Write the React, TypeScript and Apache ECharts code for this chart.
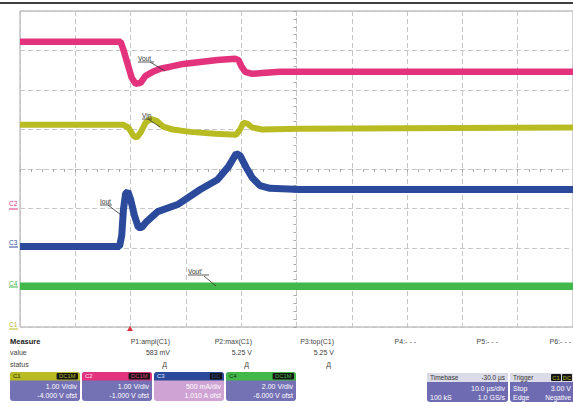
import React, { useEffect, useRef } from "react";
import * as echarts from "echarts";

// Time in µs relative to the trigger, level in screen divisions (0 = centre line)
const vinTime = [-20, -1.4, -0.4, 0.5, 1.1, 1.8, 2.7, 3.6, 4.7, 5.9, 7.6, 10.8, 15.3, 19.1, 19.8, 20.4, 21.1, 22.0, 23.8, 30.6, 80];
const vinLevel = [1.12, 1.12, 1.05, 0.84, 0.79, 0.92, 1.17, 1.27, 1.22, 1.07, 1.0, 0.94, 0.89, 0.87, 1.0, 1.17, 1.15, 1.05, 1.0, 1.02, 1.05];

const voutTime = [-20, -1.8, -1.3, -0.5, 0.2, 0.9, 1.8, 2.7, 4.0, 5.4, 7.2, 9.5, 12.6, 15.7, 18.9, 19.5, 20.0, 20.7, 22.0, 23.8, 27.0, 80];
const voutLevel = [3.22, 3.22, 3.02, 2.64, 2.31, 2.16, 2.18, 2.36, 2.46, 2.54, 2.59, 2.66, 2.71, 2.76, 2.79, 2.76, 2.61, 2.46, 2.41, 2.43, 2.46, 2.46];

const ioutTime = [-20, -2.0, -1.6, -1.3, -0.9, -0.5, 0, 0.7, 1.4, 2.0, 2.9, 4.9, 8.5, 12.6, 15.7, 17.7, 19.1, 19.8, 20.9, 22.0, 23.4, 25.2, 30.6, 80];
const ioutLevel = [-1.96, -1.96, -1.68, -1.03, -0.62, -0.57, -0.77, -1.18, -1.48, -1.48, -1.33, -1.08, -0.9, -0.52, -0.27, 0.06, 0.39, 0.34, 0.04, -0.22, -0.42, -0.49, -0.52, -0.52];

const vout2Time = [-20, 80];
const vout2Level = [-2.97, -2.97];

const channelNames = ["C1", "C2", "C3", "C4"];
const channelColors = ["#b9bb22", "#e2337c", "#2c4a9c", "#43b84a"];
const channelCoupling = ["DC1M", "DC1M", "DC", "DC1M"];
const channelScale = ["1.00 V/div", "1.00 V/div", "500 mA/div", "2.00 V/div"];
const channelOffset = ["-4.000 V ofst", "-1.000 V ofst", "1.010 A ofst", "-6.000 V ofst"];

const measureNames = ["P1:ampl(C1)", "P2:max(C1)", "P3:top(C1)", "P4:- - -", "P5:- - -", "P6:- - -"];
const measureValues = ["583 mV", "5.25 V", "5.25 V", "", "", ""];
const measureStatus = ["Д", "Д", "Д", "", "", ""];

const traceNames = ["Vout", "Vin", "Iout", "Vout'"];

const FONT = "Liberation Sans, Arial, sans-serif";

function toPoints(times: number[], levels: number[]) {
  // timebase 10 µs/div, screen centre at +30 µs
  return times.map((t, i) => [(t - 30) / 10, levels[i]]);
}

function txt(text: string, x: number, y: number, opts: any = {}) {
  return {
    type: "text",
    silent: true,
    z: 100,
    style: {
      text,
      x,
      y,
      fill: opts.fill || "#444",
      fontSize: opts.size || 7,
      fontFamily: FONT,
      fontWeight: opts.bold ? "bold" : "normal",
      textAlign: opts.align || "left",
      textVerticalAlign: "middle",
    },
  };
}

function rect(x: number, y: number, w: number, h: number, fill: string, r: any = 0) {
  return { type: "rect", silent: true, z: 90, shape: { x, y, width: w, height: h, r }, style: { fill } };
}

function line(x1: number, y1: number, x2: number, y2: number, stroke: string, w = 0.8) {
  return { type: "line", silent: true, z: 95, shape: { x1, y1, x2, y2 }, style: { stroke, lineWidth: w } };
}

export default function App() {
  const ref = useRef<HTMLDivElement>(null);

  useEffect(() => {
    if (!ref.current) return;
    const chart = echarts.init(ref.current, undefined, { renderer: "svg" });

    const graphics: any[] = [];
    // top rule
    graphics.push(line(0, 3, 573, 3, "#000", 1.5));

    // channel ground markers on the left
    const markerY = [324, 203, 242, 283];
    const markerDash = [329, 209, 247, 287];
    channelNames.forEach((n, i) => {
      graphics.push(txt(n, 9, markerY[i], { fill: channelColors[i], size: 6.5 }));
      graphics.push(line(9, markerDash[i], 18, markerDash[i], channelColors[i], 1));
    });

    // trace labels with leader lines
    const lab = [
      { x: 138, y: 58, w: 16, lx1: 150, ly1: 62, lx2: 165, ly2: 71 },
      { x: 142, y: 115, w: 10, lx1: 148, ly1: 119, lx2: 160, ly2: 127 },
      { x: 100, y: 201, w: 12, lx1: 108, ly1: 205, lx2: 121, ly2: 215 },
      { x: 188, y: 271, w: 21, lx1: 204, ly1: 276, lx2: 216, ly2: 286 },
    ];
    traceNames.forEach((n, i) => {
      const l = lab[i];
      graphics.push(txt(n, l.x, l.y, { fill: "#333", size: 6.5 }));
      graphics.push(line(l.x, l.y + 4, l.x + l.w, l.y + 4, "#333", 0.8));
      graphics.push(line(l.lx1, l.ly1, l.lx2, l.ly2, "#333", 0.8));
    });

    // trigger marker
    graphics.push({
      type: "polygon",
      silent: true,
      z: 100,
      shape: { points: [[127, 331], [133, 331], [130, 326]] },
      style: { fill: "#d8303c" },
    });

    // measurement table
    graphics.push(txt("Measure", 10, 341, { bold: true, fill: "#222", size: 7.5 }));
    graphics.push(txt("value", 10, 352, { size: 7 }));
    graphics.push(txt("status", 10, 364, { size: 7 }));
    const colRight = [170, 252, 334, 416, 498, 571];
    measureNames.forEach((n, i) => {
      graphics.push(txt(n, colRight[i], 341, { align: "right", size: 7 }));
      if (measureValues[i]) graphics.push(txt(measureValues[i], colRight[i], 352, { align: "right", size: 7 }));
      if (measureStatus[i]) graphics.push(txt(measureStatus[i], colRight[i] - 3, 364, { align: "right", size: 7 }));
    });

    // channel boxes
    const boxX = [10, 82, 154, 226];
    const bodyCol = ["#7571b5", "#7571b5", "#cfa4d4", "#7571b5"];
    const headTxt = ["#2a2a10", "#fbe3ee", "#dfe6ff", "#12320f"];
    channelNames.forEach((n, i) => {
      const x = boxX[i];
      graphics.push(rect(x, 372, 70, 29, bodyCol[i], 3));
      graphics.push(rect(x, 372, 70, 8.5, channelColors[i], [3, 3, 0, 0]));
      graphics.push(txt(n, x + 3, 376.3, { fill: headTxt[i], size: 6 }));
      const tw = channelCoupling[i].length * 4.6 + 3;
      graphics.push(rect(x + 68 - tw, 373, tw, 6.5, "#161616", 1));
      graphics.push(txt(channelCoupling[i], x + 68 - tw / 2, 376.4, { fill: channelColors[i], size: 5.8, align: "center" }));
      graphics.push(txt(channelScale[i], x + 67, 386.5, { fill: "#ffffff", size: 7, align: "right" }));
      graphics.push(txt(channelOffset[i], x + 67, 395.5, { fill: "#ffffff", size: 7, align: "right" }));
    });

    // timebase box
    graphics.push(rect(427, 373, 81, 29, "#6f6bb2", 3));
    graphics.push(rect(427, 373, 81, 9, "#dcdce8", [3, 3, 0, 0]));
    graphics.push(txt("Timebase", 430, 377.5, { fill: "#333", size: 6.5 }));
    graphics.push(txt("-30.0 µs", 505, 377.5, { fill: "#333", size: 6.5, align: "right" }));
    graphics.push(txt("10.0 µs/div", 505, 388, { fill: "#fff", size: 7, align: "right" }));
    graphics.push(txt("100 kS", 430, 397, { fill: "#fff", size: 7 }));
    graphics.push(txt("1.0 GS/s", 505, 397, { fill: "#fff", size: 7, align: "right" }));

    // trigger box
    graphics.push(rect(510, 373, 70, 29, "#6f6bb2", 3));
    graphics.push(rect(510, 373, 70, 9, "#dcdce8", [3, 3, 0, 0]));
    graphics.push(txt("Trigger", 513, 377.5, { fill: "#333", size: 6.5 }));
    graphics.push(rect(551, 374, 10, 7, "#161616", 1));
    graphics.push(txt("C1", 556, 377.5, { fill: channelColors[0], size: 5.8, align: "center" }));
    graphics.push(rect(562, 374, 10, 7, "#161616", 1));
    graphics.push(txt("DC", 567, 377.5, { fill: channelColors[0], size: 5.8, align: "center" }));
    graphics.push(txt("Stop", 513, 388, { fill: "#fff", size: 7 }));
    graphics.push(txt("3.00 V", 571, 388, { fill: "#fff", size: 7, align: "right" }));
    graphics.push(txt("Edge", 513, 397, { fill: "#fff", size: 7 }));
    graphics.push(txt("Negative", 571, 397, { fill: "#fff", size: 6.5, align: "right" }));

    const gridLine = { color: "#c6c6c6", type: [5, 3] as any, width: 1 };
    const tickStyle = { color: "#a8a8a8", width: 1 };

    const mk = (name: string, times: number[], levels: number[], color: string, w: number) => ({
      name,
      type: "line",
      data: toPoints(times, levels),
      showSymbol: false,
      symbol: "none",
      lineStyle: { color, width: w },
      itemStyle: { color },
      z: 5,
      silent: true,
    });

    chart.setOption({
      animation: false,
      backgroundColor: "#ffffff",
      grid: {
        left: 20,
        top: 11,
        width: 553,
        height: 316,
        show: true,
        borderColor: "#a4a4a4",
        borderWidth: 1,
        backgroundColor: "transparent",
      },
      xAxis: {
        type: "value",
        min: -5,
        max: 5,
        interval: 1,
        axisLabel: { show: false },
        axisLine: { show: true, onZero: true, lineStyle: gridLine },
        axisTick: { show: true, length: 3, lineStyle: tickStyle },
        minorTick: { show: true, splitNumber: 5, length: 3, lineStyle: tickStyle },
        splitLine: { show: true, lineStyle: gridLine },
      },
      yAxis: {
        type: "value",
        min: -4,
        max: 4,
        interval: 1,
        axisLabel: { show: false },
        axisLine: { show: true, onZero: true, lineStyle: gridLine },
        axisTick: { show: true, length: 3, lineStyle: tickStyle },
        minorTick: { show: true, splitNumber: 5, length: 3, lineStyle: tickStyle },
        splitLine: { show: true, lineStyle: gridLine },
      },
      series: [
        mk("Vin", vinTime, vinLevel, channelColors[0], 6),
        mk("Vout", voutTime, voutLevel, channelColors[1], 6.5),
        mk("Iout", ioutTime, ioutLevel, channelColors[2], 7),
        mk("Vout'", vout2Time, vout2Level, channelColors[3], 7.5),
      ],
      graphic: graphics,
    });

    return () => chart.dispose();
  }, []);

  return (
    <div
      ref={ref}
      style={{ position: "absolute", left: 0, top: 0, width: 573, height: 417, background: "#fff" }}
    />
  );
}
